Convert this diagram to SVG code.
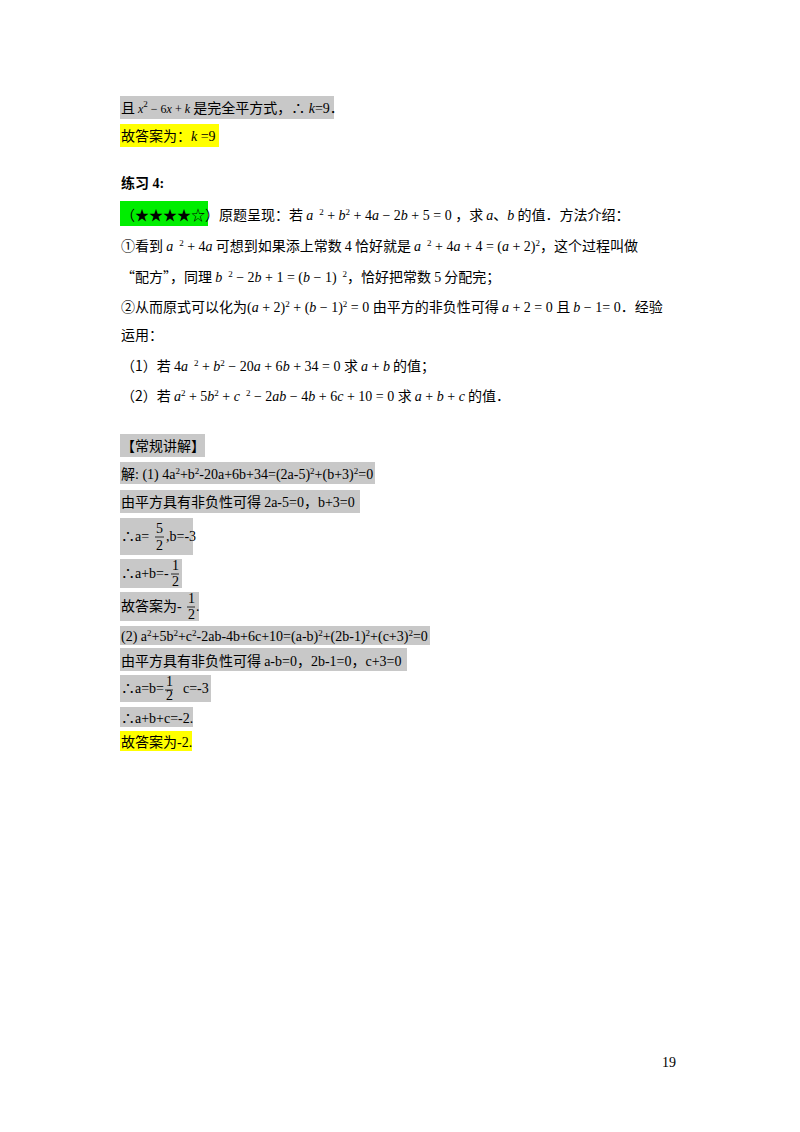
<svg xmlns="http://www.w3.org/2000/svg" width="800" height="1132" viewBox="0 0 800 1132">
<style>
text{font-family:"Liberation Serif","Noto Sans CJK SC",serif;font-size:14px;fill:#000}
.c{font-family:"Noto Sans CJK SC","Liberation Sans",sans-serif;font-size:14px}
.i{font-style:italic}
.s{font-size:9px}
.g{fill:#c8c8c8}
.y{fill:#ffff00}
</style>
<rect width="800" height="1132" fill="#fff"/>
<g id="bg">
<rect class="g" x="120" y="96" width="214" height="23"/>
<rect class="y" x="120" y="124" width="99" height="23"/>
<rect x="120" y="201" width="88" height="25" fill="#00ee00"/>
<rect class="g" x="120" y="434" width="85" height="23"/>
<rect class="g" x="120" y="462" width="255" height="22"/>
<rect class="g" x="120" y="490" width="240" height="23"/>
<rect class="g" x="120" y="518" width="73" height="37"/>
<rect class="g" x="120" y="559" width="62" height="29"/>
<rect class="g" x="120" y="592" width="79" height="29"/>
<rect class="g" x="120" y="626" width="310" height="19"/>
<rect class="g" x="120" y="648" width="287" height="23"/>
<rect class="g" x="120" y="675" width="91" height="27"/>
<rect class="g" x="120" y="707" width="73" height="20"/>
<rect class="y" x="120" y="731" width="72" height="20"/>
</g>
<g id="text">
<text x="121" y="113"><tspan class="c">且</tspan><tspan class="i" font-size="12"> x</tspan><tspan class="s" dy="-6">2</tspan><tspan dy="6" font-size="12"> − 6</tspan><tspan class="i" font-size="12">x</tspan><tspan font-size="12"> + </tspan><tspan class="i" font-size="12">k</tspan><tspan class="c"> 是完全平方式，</tspan><tspan>∴ </tspan><tspan class="i">k</tspan><tspan>=9．</tspan></text>
<text x="121" y="141"><tspan class="c">故答案为：</tspan><tspan class="i">k</tspan><tspan> =9</tspan></text>
<text x="121" y="188" font-weight="bold"><tspan class="c" font-weight="bold">练习</tspan> 4:</text>
<text x="121" y="220"><tspan class="c">（★★★★☆）原题呈现：若 </tspan><tspan class="i">a</tspan><tspan class="s" dx="6" dy="-5">2</tspan><tspan dy="5"> + </tspan><tspan class="i">b</tspan><tspan class="s" dy="-5">2</tspan><tspan dy="5"> + 4</tspan><tspan class="i">a</tspan><tspan> − 2</tspan><tspan class="i">b</tspan><tspan> + 5 = 0 ，</tspan><tspan class="c">求 </tspan><tspan class="i">a</tspan><tspan class="c">、</tspan><tspan class="i">b</tspan><tspan class="c"> 的值．方法介绍：</tspan></text>
<text x="121" y="251"><tspan class="c">①看到 </tspan><tspan class="i">a</tspan><tspan class="s" dx="6" dy="-5">2</tspan><tspan dy="5"> + 4</tspan><tspan class="i">a</tspan><tspan class="c"> 可想到如果添上常数 </tspan><tspan>4</tspan><tspan class="c"> 恰好就是 </tspan><tspan class="i">a</tspan><tspan class="s" dx="6" dy="-5">2</tspan><tspan dy="5"> + 4</tspan><tspan class="i">a</tspan><tspan> + 4 = (</tspan><tspan class="i">a</tspan><tspan> + 2)</tspan><tspan class="s" dy="-5">2</tspan><tspan class="c" dy="5">，这个过程叫做</tspan></text>
<text x="121" y="282"><tspan class="c">“配方”，同理 </tspan><tspan class="i">b</tspan><tspan class="s" dx="6" dy="-5">2</tspan><tspan dy="5"> − 2</tspan><tspan class="i">b</tspan><tspan> + 1 = (</tspan><tspan class="i">b</tspan><tspan> − 1)</tspan><tspan class="s" dx="6" dy="-5">2</tspan><tspan class="c" dy="5">，恰好把常数 </tspan><tspan>5</tspan><tspan class="c"> 分配完；</tspan></text>
<text x="121" y="312"><tspan class="c">②从而原式可以化为</tspan><tspan>(</tspan><tspan class="i">a</tspan><tspan> + 2)</tspan><tspan class="s" dy="-5">2</tspan><tspan dy="5"> + (</tspan><tspan class="i">b</tspan><tspan> − 1)</tspan><tspan class="s" dy="-5">2</tspan><tspan dy="5"> = 0 </tspan><tspan class="c">由平方的非负性可得 </tspan><tspan class="i">a</tspan><tspan> + 2 = 0 </tspan><tspan class="c">且 </tspan><tspan class="i">b</tspan><tspan> − 1= 0</tspan><tspan class="c">．经验</tspan></text>
<text x="121" y="340" class="c">运用：</text>
<text x="121" y="371"><tspan class="c">（1）若 </tspan><tspan>4</tspan><tspan class="i">a</tspan><tspan class="s" dx="6" dy="-5">2</tspan><tspan dy="5"> + </tspan><tspan class="i">b</tspan><tspan class="s" dy="-5">2</tspan><tspan dy="5"> − 20</tspan><tspan class="i">a</tspan><tspan> + 6</tspan><tspan class="i">b</tspan><tspan> + 34 = 0 </tspan><tspan class="c">求 </tspan><tspan class="i">a</tspan><tspan> + </tspan><tspan class="i">b</tspan><tspan class="c"> 的值；</tspan></text>
<text x="121" y="401"><tspan class="c">（2）若 </tspan><tspan class="i">a</tspan><tspan class="s" dy="-5">2</tspan><tspan dy="5"> + 5</tspan><tspan class="i">b</tspan><tspan class="s" dy="-5">2</tspan><tspan dy="5"> + </tspan><tspan class="i">c</tspan><tspan class="s" dx="6" dy="-5">2</tspan><tspan dy="5"> − 2</tspan><tspan class="i">ab</tspan><tspan> − 4</tspan><tspan class="i">b</tspan><tspan> + 6</tspan><tspan class="i">c</tspan><tspan> + 10 = 0 </tspan><tspan class="c">求 </tspan><tspan class="i">a</tspan><tspan> + </tspan><tspan class="i">b</tspan><tspan> + </tspan><tspan class="i">c</tspan><tspan class="c"> 的值．</tspan></text>
<text x="121" y="451" class="c">【常规讲解】</text>
<text x="121" y="479"><tspan class="c">解</tspan>: (1) 4a<tspan class="s" dy="-5">2</tspan><tspan dy="5">+b</tspan><tspan class="s" dy="-5">2</tspan><tspan dy="5">-20a+6b+34=(2a-5)</tspan><tspan class="s" dy="-5">2</tspan><tspan dy="5">+(b+3)</tspan><tspan class="s" dy="-5">2</tspan><tspan dy="5">=0</tspan></text>
<text x="121" y="507"><tspan class="c">由平方具有非负性可得 </tspan>2a-5=0，b+3=0</text>
<text x="121" y="541">∴a=</text>
<text x="156" y="533" font-size="11">5</text><line x1="155" y1="537" x2="164" y2="537" stroke="#000" stroke-width="0.8"/><text x="156" y="550" font-size="11">2</text>
<text x="166" y="541">,b=-3</text>
<text x="121" y="578">∴a+b=-</text>
<text x="172" y="570" font-size="11">1</text><line x1="171" y1="574" x2="179" y2="574" stroke="#000" stroke-width="0.8"/><text x="172" y="586" font-size="11">2</text>
<text x="121" y="611"><tspan class="c">故答案为</tspan>-</text>
<text x="188" y="603" font-size="11">1</text><line x1="187" y1="607" x2="195" y2="607" stroke="#000" stroke-width="0.8"/><text x="188" y="619" font-size="11">2</text>
<text x="196" y="611">.</text>
<text x="121" y="641">(2) a<tspan class="s" dy="-5">2</tspan><tspan dy="5">+5b</tspan><tspan class="s" dy="-5">2</tspan><tspan dy="5">+c</tspan><tspan class="s" dy="-5">2</tspan><tspan dy="5">-2ab-4b+6c+10=(a-b)</tspan><tspan class="s" dy="-5">2</tspan><tspan dy="5">+(2b-1)</tspan><tspan class="s" dy="-5">2</tspan><tspan dy="5">+(c+3)</tspan><tspan class="s" dy="-5">2</tspan><tspan dy="5">=0</tspan></text>
<text x="121" y="666"><tspan class="c">由平方具有非负性可得 </tspan>a-b=0，2b-1=0，c+3=0</text>
<text x="121" y="693">∴a=b=</text>
<text x="166" y="686" font-size="11">1</text><line x1="165" y1="690" x2="173" y2="690" stroke="#000" stroke-width="0.8"/><text x="166" y="700" font-size="11">2</text>
<text x="183" y="693">c=-3</text>
<text x="121" y="723">∴a+b+c=-2.</text>
<text x="121" y="747"><tspan class="c">故答案为</tspan>-2.</text>
<text x="662" y="1067" font-size="13">19</text>
</g>
</svg>
